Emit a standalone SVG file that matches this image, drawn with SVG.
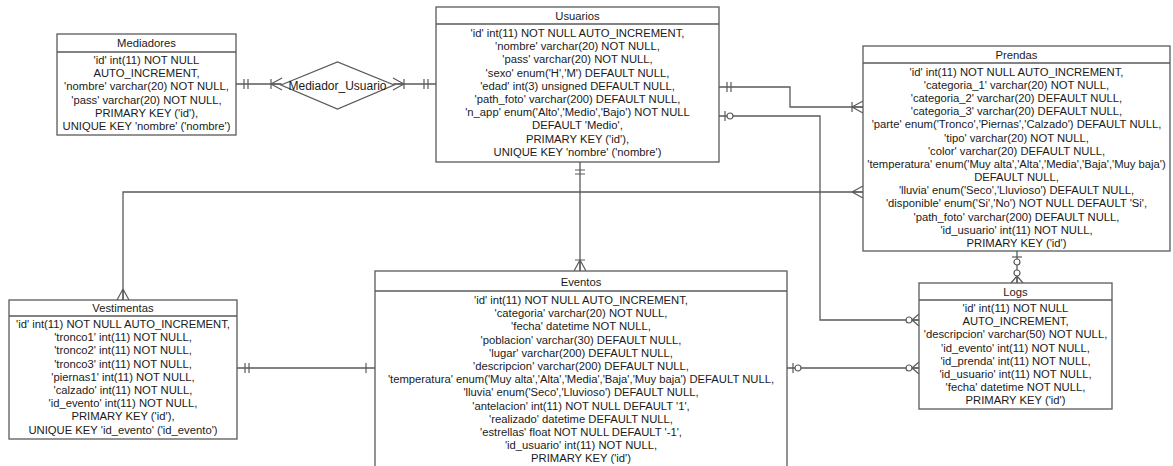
<svg xmlns="http://www.w3.org/2000/svg" xmlns:xlink="http://www.w3.org/1999/xlink" width="1173" height="466" viewBox="0 0 1173 466">
<style>
.box{fill:#fff;stroke:#5a5a5a;stroke-width:1.3}
.hd{stroke:#5a5a5a;stroke-width:1.3}
.t{font-family:"Liberation Sans",Arial,sans-serif;font-size:11.25px;fill:#1a1a1a;text-anchor:middle}
.cn{fill:none;stroke:#5a5a5a;stroke-width:1.3}
.sym{fill:none;stroke:#5a5a5a;stroke-width:1.2}
.circ{fill:#fff;stroke:#5a5a5a;stroke-width:1.2}
</style>
<defs>
<g id="oneone"><path class="sym" d="M-8,-5V5M-12,-5V5"/></g>
<g id="one"><path class="sym" d="M-9,-5V5"/></g>
<g id="many"><path class="sym" d="M-11,0L0,-6M-11,0L0,0M-11,0L0,6"/></g>
<g id="onemany"><path class="sym" d="M-11,-5V5M-11,0L0,-6M-11,0L0,0M-11,0L0,6"/></g>
<g id="zeromany"><path class="sym" d="M-7,0L0,-6M-7,0L0,0M-7,0L0,6"/><circle class="circ" cx="-10" cy="0" r="3"/></g>
<g id="zeroone"><path class="sym" d="M-6,-5V5"/><circle class="circ" cx="-11" cy="0" r="3"/></g>
</defs>

<g id="connectors">
<path class="cn" d="M236,84H281"/>
<path class="cn" d="M394,84H436"/>
<path class="cn" d="M719,87H790V107H863"/>
<path class="cn" d="M719,116H820V320H919"/>
<path class="cn" d="M580,162V271"/>
<path class="cn" d="M123,300V192H863"/>
<path class="cn" d="M237,368H375"/>
<path class="cn" d="M787,368H919"/>
<path class="cn" d="M1017,251V283"/>
<use xlink:href="#oneone" transform="translate(236,84) rotate(180)"/>
<use xlink:href="#onemany" transform="translate(282,84)"/>
<use xlink:href="#onemany" transform="translate(393,84) rotate(180)"/>
<use xlink:href="#oneone" transform="translate(436,84)"/>
<use xlink:href="#oneone" transform="translate(719,87) rotate(180)"/>
<use xlink:href="#onemany" transform="translate(863,107)"/>
<use xlink:href="#zeroone" transform="translate(719,116) rotate(180)"/>
<use xlink:href="#zeromany" transform="translate(919,320)"/>
<use xlink:href="#oneone" transform="translate(580,162) rotate(-90)"/>
<use xlink:href="#onemany" transform="translate(580,271) rotate(90)"/>
<use xlink:href="#many" transform="translate(123,300) rotate(90)"/>
<use xlink:href="#many" transform="translate(863,192)"/>
<use xlink:href="#oneone" transform="translate(237,368) rotate(180)"/>
<use xlink:href="#one" transform="translate(375,368)"/>
<use xlink:href="#zeroone" transform="translate(787,368) rotate(180)"/>
<use xlink:href="#zeromany" transform="translate(919,368)"/>
<use xlink:href="#zeroone" transform="translate(1017,251) rotate(-90)"/>
<use xlink:href="#zeromany" transform="translate(1017,283) rotate(90)"/>
</g>

<g id="mediador_usuario">
<polygon class="box" points="281,85 337.5,62 394,85 337.5,109"/>
<text class="t" x="337.5" y="89.5" style="font-size:12px">Mediador_Usuario</text>
</g>

<g id="mediadores">
<rect class="box" x="57" y="34" width="179" height="101"/>
<line class="hd" x1="57" y1="52" x2="236" y2="52"/>
<text class="t" x="146.5" y="47">Mediadores</text>
<text class="t" x="146.5" y="64"><tspan x="146.5">'id' int(11) NOT NULL</tspan><tspan x="146.5" dy="13.2">AUTO_INCREMENT,</tspan><tspan x="146.5" dy="13.2">'nombre' varchar(20) NOT NULL,</tspan><tspan x="146.5" dy="13.2">'pass' varchar(20) NOT NULL,</tspan><tspan x="146.5" dy="13.2">PRIMARY KEY ('id'),</tspan><tspan x="146.5" dy="13.2">UNIQUE KEY 'nombre' ('nombre')</tspan></text>
</g>

<g id="usuarios">
<rect class="box" x="436" y="7" width="283" height="155"/>
<line class="hd" x1="436" y1="24" x2="719" y2="24"/>
<text class="t" x="577.5" y="20">Usuarios</text>
<text class="t" x="577.5" y="37"><tspan x="577.5">'id' int(11) NOT NULL AUTO_INCREMENT,</tspan><tspan x="577.5" dy="13.2">'nombre' varchar(20) NOT NULL,</tspan><tspan x="577.5" dy="13.2">'pass' varchar(20) NOT NULL,</tspan><tspan x="577.5" dy="13.2">'sexo' enum('H','M') DEFAULT NULL,</tspan><tspan x="577.5" dy="13.2">'edad' int(3) unsigned DEFAULT NULL,</tspan><tspan x="577.5" dy="13.2">'path_foto' varchar(200) DEFAULT NULL,</tspan><tspan x="577.5" dy="13.2">'n_app' enum('Alto','Medio','Bajo') NOT NULL</tspan><tspan x="577.5" dy="13.2">DEFAULT 'Medio',</tspan><tspan x="577.5" dy="13.2">PRIMARY KEY ('id'),</tspan><tspan x="577.5" dy="13.2">UNIQUE KEY 'nombre' ('nombre')</tspan></text>
</g>

<g id="prendas">
<rect class="box" x="863" y="46" width="307" height="205"/>
<line class="hd" x1="863" y1="63" x2="1170" y2="63"/>
<text class="t" x="1016.5" y="58.5">Prendas</text>
<text class="t" x="1016.5" y="75.5"><tspan x="1016.5">'id' int(11) NOT NULL AUTO_INCREMENT,</tspan><tspan x="1016.5" dy="13.2">'categoria_1' varchar(20) NOT NULL,</tspan><tspan x="1016.5" dy="13.2">'categoria_2' varchar(20) DEFAULT NULL,</tspan><tspan x="1016.5" dy="13.2">'categoria_3' varchar(20) DEFAULT NULL,</tspan><tspan x="1016.5" dy="13.2">'parte' enum('Tronco','Piernas','Calzado') DEFAULT NULL,</tspan><tspan x="1016.5" dy="13.2">'tipo' varchar(20) NOT NULL,</tspan><tspan x="1016.5" dy="13.2">'color' varchar(20) DEFAULT NULL,</tspan><tspan x="1016.5" dy="13.2">'temperatura' enum('Muy alta','Alta','Media','Baja','Muy baja')</tspan><tspan x="1016.5" dy="13.2">DEFAULT NULL,</tspan><tspan x="1016.5" dy="13.2">'lluvia' enum('Seco','Lluvioso') DEFAULT NULL,</tspan><tspan x="1016.5" dy="13.2">'disponible' enum('Si','No') NOT NULL DEFAULT 'Si',</tspan><tspan x="1016.5" dy="13.2">'path_foto' varchar(200) DEFAULT NULL,</tspan><tspan x="1016.5" dy="13.2">'id_usuario' int(11) NOT NULL,</tspan><tspan x="1016.5" dy="13.2">PRIMARY KEY ('id')</tspan></text>
</g>

<g id="vestimentas">
<rect class="box" x="9" y="300" width="228" height="139"/>
<line class="hd" x1="9" y1="316" x2="237" y2="316"/>
<text class="t" x="123" y="312">Vestimentas</text>
<text class="t" x="123" y="328"><tspan x="123">'id' int(11) NOT NULL AUTO_INCREMENT,</tspan><tspan x="123" dy="13.2">'tronco1' int(11) NOT NULL,</tspan><tspan x="123" dy="13.2">'tronco2' int(11) NOT NULL,</tspan><tspan x="123" dy="13.2">'tronco3' int(11) NOT NULL,</tspan><tspan x="123" dy="13.2">'piernas1' int(11) NOT NULL,</tspan><tspan x="123" dy="13.2">'calzado' int(11) NOT NULL,</tspan><tspan x="123" dy="13.2">'id_evento' int(11) NOT NULL,</tspan><tspan x="123" dy="13.2">PRIMARY KEY ('id'),</tspan><tspan x="123" dy="13.2">UNIQUE KEY 'id_evento' ('id_evento')</tspan></text>
</g>

<g id="eventos">
<rect class="box" x="375" y="271" width="412" height="200"/>
<line class="hd" x1="375" y1="291" x2="787" y2="291"/>
<text class="t" x="581" y="285.5">Eventos</text>
<text class="t" x="581" y="304"><tspan x="581">'id' int(11) NOT NULL AUTO_INCREMENT,</tspan><tspan x="581" dy="13.2">'categoria' varchar(20) NOT NULL,</tspan><tspan x="581" dy="13.2">'fecha' datetime NOT NULL,</tspan><tspan x="581" dy="13.2">'poblacion' varchar(30) DEFAULT NULL,</tspan><tspan x="581" dy="13.2">'lugar' varchar(200) DEFAULT NULL,</tspan><tspan x="581" dy="13.2">'descripcion' varchar(200) DEFAULT NULL,</tspan><tspan x="581" dy="13.2">'temperatura' enum('Muy alta','Alta','Media','Baja','Muy baja') DEFAULT NULL,</tspan><tspan x="581" dy="13.2">'lluvia' enum('Seco','Lluvioso') DEFAULT NULL,</tspan><tspan x="581" dy="13.2">'antelacion' int(11) NOT NULL DEFAULT '1',</tspan><tspan x="581" dy="13.2">'realizado' datetime DEFAULT NULL,</tspan><tspan x="581" dy="13.2">'estrellas' float NOT NULL DEFAULT '-1',</tspan><tspan x="581" dy="13.2">'id_usuario' int(11) NOT NULL,</tspan><tspan x="581" dy="13.2">PRIMARY KEY ('id')</tspan></text>
</g>

<g id="logs">
<rect class="box" x="919" y="283" width="193" height="126"/>
<line class="hd" x1="919" y1="300" x2="1112" y2="300"/>
<text class="t" x="1015.5" y="295.5">Logs</text>
<text class="t" x="1015.5" y="312"><tspan x="1015.5">'id' int(11) NOT NULL</tspan><tspan x="1015.5" dy="13.2">AUTO_INCREMENT,</tspan><tspan x="1015.5" dy="13.2">'descripcion' varchar(50) NOT NULL,</tspan><tspan x="1015.5" dy="13.2">'id_evento' int(11) NOT NULL,</tspan><tspan x="1015.5" dy="13.2">'id_prenda' int(11) NOT NULL,</tspan><tspan x="1015.5" dy="13.2">'id_usuario' int(11) NOT NULL,</tspan><tspan x="1015.5" dy="13.2">'fecha' datetime NOT NULL,</tspan><tspan x="1015.5" dy="13.2">PRIMARY KEY ('id')</tspan></text>
</g>
</svg>
